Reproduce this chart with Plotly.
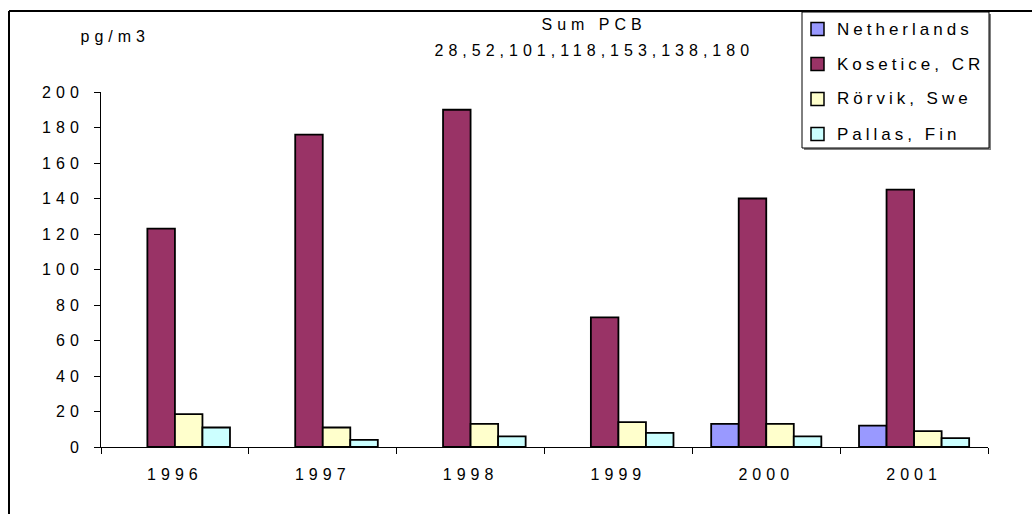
import plotly.graph_objects as go

YEARS = ["1996", "1997", "1998", "1999", "2000", "2001"]
NETHERLANDS = [None, None, None, None, 13, 12]
KOSETICE = [123, 176, 190, 73, 140, 145]
RORVIK = [18.5, 11, 13, 14, 13, 9]
PALLAS = [11, 4, 6, 8, 6, 5]

SERIES_NAMES = ["Netherlands", "Kosetice, CR", "Rörvik, Swe", "Pallas, Fin"]
SERIES_VALUES = [NETHERLANDS, KOSETICE, RORVIK, PALLAS]
COLORS = ["#9999FF", "#993366", "#FFFFCC", "#CCFFFF"]

Y_TICKS = [0, 20, 40, 60, 80, 100, 120, 140, 160, 180, 200]
TITLE_LINES = ["Sum PCB", "28,52,101,118,153,138,180"]
UNIT = "pg/m3"

FONT = "Liberation Sans, Arial, sans-serif"
# the original uses widely spaced lettering
LETTER_SPACING = 5
LEGEND_SIZE, LEGEND_SPACING = 17, 4
W, H = 1032, 514
L, R, T, B = 101, 988, 92, 447


def px_x(p):
    return (p - L) / (R - L)


def px_y(p):
    return (B - p) / (B - T)


def left_x(p, text, spacing):
    # annotations are centred in their box, so extra letter spacing
    # spreads both ways; move the box right to keep the left edge
    return px_x(p + len(text) * spacing / 2)


fig = go.Figure()
for name, values, color in zip(SERIES_NAMES, SERIES_VALUES, COLORS):
    fig.add_trace(
        go.Bar(
            x=YEARS,
            y=values,
            name=name,
            marker=dict(color=color, line=dict(color="black", width=1.8)),
            showlegend=False,
            hoverinfo="skip",
        )
    )

shapes = [
    # outer frame (left and top edges, rest runs off the page)
    dict(type="line", xref="paper", yref="paper",
         x0=px_x(9), x1=px_x(W + 10), y0=px_y(11), y1=px_y(11),
         line=dict(color="black", width=2)),
    dict(type="line", xref="paper", yref="paper",
         x0=px_x(9), x1=px_x(9), y0=px_y(11), y1=px_y(H + 10),
         line=dict(color="black", width=2)),
    # legend box with shadow
    dict(type="rect", xref="paper", yref="paper",
         x0=px_x(804), x1=px_x(991), y0=px_y(14), y1=px_y(150),
         line=dict(width=0), fillcolor="#808080"),
    dict(type="rect", xref="paper", yref="paper",
         x0=px_x(802), x1=px_x(989), y0=px_y(12), y1=px_y(148),
         line=dict(color="black", width=1), fillcolor="white"),
]
annotations = [
    dict(text=UNIT, x=left_x(78, UNIT, LETTER_SPACING), y=px_y(37),
         xanchor="left", yanchor="middle"),
    dict(text=TITLE_LINES[0], x=px_x(594), y=px_y(24), xanchor="center", yanchor="middle"),
    dict(text=TITLE_LINES[1], x=px_x(594), y=px_y(51), xanchor="center", yanchor="middle"),
]
for i, (name, color) in enumerate(zip(SERIES_NAMES, COLORS)):
    cy = 29 + i * 35
    shapes.append(dict(type="rect", xref="paper", yref="paper",
                       x0=px_x(811), x1=px_x(824), y0=px_y(cy + 6.5), y1=px_y(cy - 6.5),
                       line=dict(color="black", width=1.5), fillcolor=color))
    annotations.append(dict(text=name, x=left_x(835, name, LEGEND_SPACING), y=px_y(cy),
                            xanchor="left", yanchor="middle",
                            font=dict(size=LEGEND_SIZE)))
for a in annotations:
    a.update(xref="paper", yref="paper", showarrow=False)
    a.setdefault("font", dict(size=16))
    a["font"].update(family=FONT, color="black")

fig.update_layout(
    width=W,
    height=H,
    margin=dict(l=L, r=W - R, t=T, b=H - B),
    paper_bgcolor="white",
    plot_bgcolor="white",
    barmode="group",
    bargap=0.255,
    bargroupgap=0,
    font=dict(family=FONT, size=16, color="black"),
    shapes=shapes,
    annotations=annotations,
)
fig.update_xaxes(
    type="category",
    showline=True, linecolor="black", linewidth=1,
    ticks="outside", tickson="boundaries", ticklen=6, tickcolor="black",
    ticklabelstandoff=13,
    showgrid=False, zeroline=False,
    tickfont=dict(size=16),
)
fig.update_yaxes(
    range=[0, 200],
    tickvals=Y_TICKS,
    showline=True, linecolor="black", linewidth=1,
    ticks="outside", ticklen=6, tickcolor="black",
    ticklabelstandoff=7,
    showgrid=False, zeroline=False,
    tickfont=dict(size=16),
)

page_js = (
    "document.body.style.margin='0';"
    "document.getElementById('{plot_id}').querySelectorAll('text').forEach(function(t){"
    "t.style.letterSpacing=(t.style.fontSize=='%dpx'?'%dpx':'%dpx');});"
    % (LEGEND_SIZE, LEGEND_SPACING, LETTER_SPACING)
)
fig.write_html("out.html", post_script=page_js, config={"displayModeBar": False})
